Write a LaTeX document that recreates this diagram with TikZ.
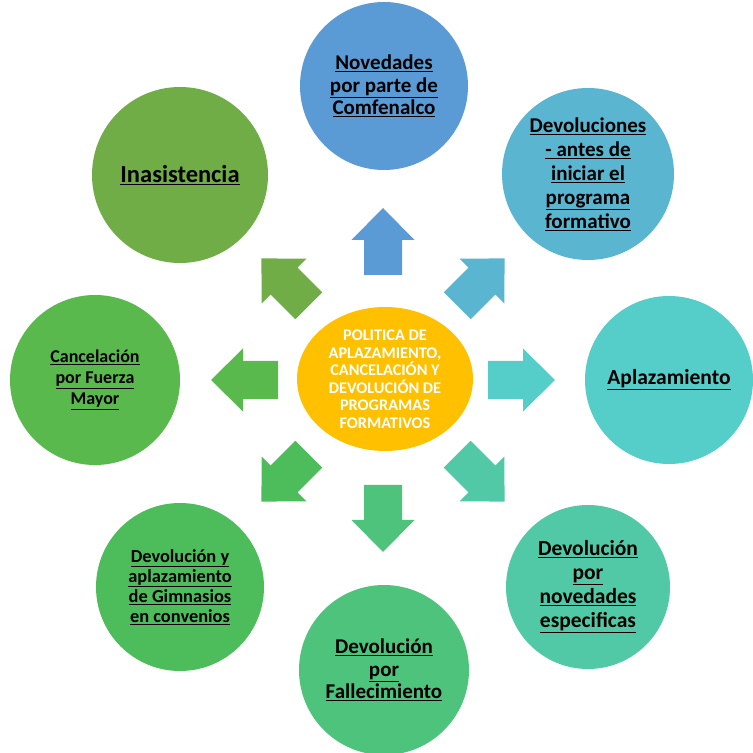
\documentclass[tikz,border=0pt]{standalone}
\usepackage{fontspec}
\setmainfont{Carlito}
\usetikzlibrary{shapes.geometric}

\definecolor{polyellow}{HTML}{FFC000}
\definecolor{polblue}{HTML}{5B9BD5}
\definecolor{polsky}{HTML}{5AB5D1}
\definecolor{polteal}{HTML}{55CDC8}
\definecolor{polmint}{HTML}{52C9A6}
\definecolor{polsea}{HTML}{4DC37C}
\definecolor{polgreen}{HTML}{4DBD5C}
\definecolor{polleaf}{HTML}{5AB94C}
\definecolor{pololive}{HTML}{70AD47}

\tikzset{
  topic/.style={circle, inner sep=0pt, align=center, text=black},
  hub/.style={ellipse, fill=polyellow, minimum width=176pt, minimum height=144pt,
    inner sep=0pt, align=center, text=white, font=\bfseries\fontsize{16.3}{17.5}\selectfont},
}
\newcommand{\ul}[1]{\underline{#1}}

\begin{document}
\begin{tikzpicture}[x=1pt,y=1pt]
  \useasboundingbox (0,0) rectangle (753,753);
  \fill[white] (0,0) rectangle (753,753);

  % central policy
  \node[hub] (hub) at (385,374) {POLITICA DE\\APLAZAMIENTO,\\CANCELACI\'ON Y\\DEVOLUCI\'ON DE\\PROGRAMAS\\FORMATIVOS};

  % block arrows round the hub
  \foreach \ang/\col in {90/polblue,45/polsky,0/polteal,-45/polmint,-90/polsea,-135/polgreen,180/polleaf,135/pololive}
    \fill[\col, shift={(383,373)}, rotate=\ang]
      (105,-19) -- (140,-19) -- (140,-31.5) -- (172,0) -- (140,31.5) -- (140,19) -- (105,19) -- cycle;

  % topics
  \node[topic, fill=polblue, minimum size=168pt, font=\bfseries\fontsize{21}{22.5}\selectfont] (nov) at (384,667)
    {\ul{Novedades}\\\ul{por parte de}\\\ul{Comfenalco}};
  \node[topic, fill=polsky, minimum size=172pt, font=\bfseries\fontsize{21}{24}\selectfont] (dev) at (588,579)
    {\ul{Devoluciones}\\\ul{- antes de}\\\ul{iniciar el}\\\ul{programa}\\\ul{formativo}};
  \node[topic, fill=polteal, minimum size=168pt, font=\bfseries\fontsize{21.5}{24}\selectfont] (apl) at (669,373)
    {\ul{Aplazamiento}};
  \node[topic, fill=polmint, minimum size=164pt, font=\bfseries\fontsize{21.5}{24}\selectfont] (esp) at (588,166)
    {\ul{Devoluci\'on}\\\ul{por}\\\ul{novedades}\\\ul{especificas}};
  \node[topic, fill=polsea, minimum size=170pt, font=\bfseries\fontsize{21}{22.5}\selectfont] (fal) at (384,83)
    {\ul{Devoluci\'on}\\\ul{por}\\\ul{Fallecimiento}};
  \node[topic, fill=polgreen, minimum size=168pt, font=\bfseries\fontsize{18.4}{20}\selectfont] (gim) at (180,166)
    {\ul{Devoluci\'on y}\\\ul{aplazamiento}\\\ul{de Gimnasios}\\\ul{en convenios}};
  \node[topic, fill=polleaf, minimum size=170pt, font=\bfseries\fontsize{18}{21}\selectfont] (can) at (95,373)
    {\ul{Cancelaci\'on}\\\ul{por Fuerza}\\\ul{Mayor}};
  \node[topic, fill=pololive, minimum size=176pt, font=\bfseries\fontsize{24.5}{26}\selectfont] (ina) at (180,578)
    {\ul{Inasistencia}};
\end{tikzpicture}
\end{document}
